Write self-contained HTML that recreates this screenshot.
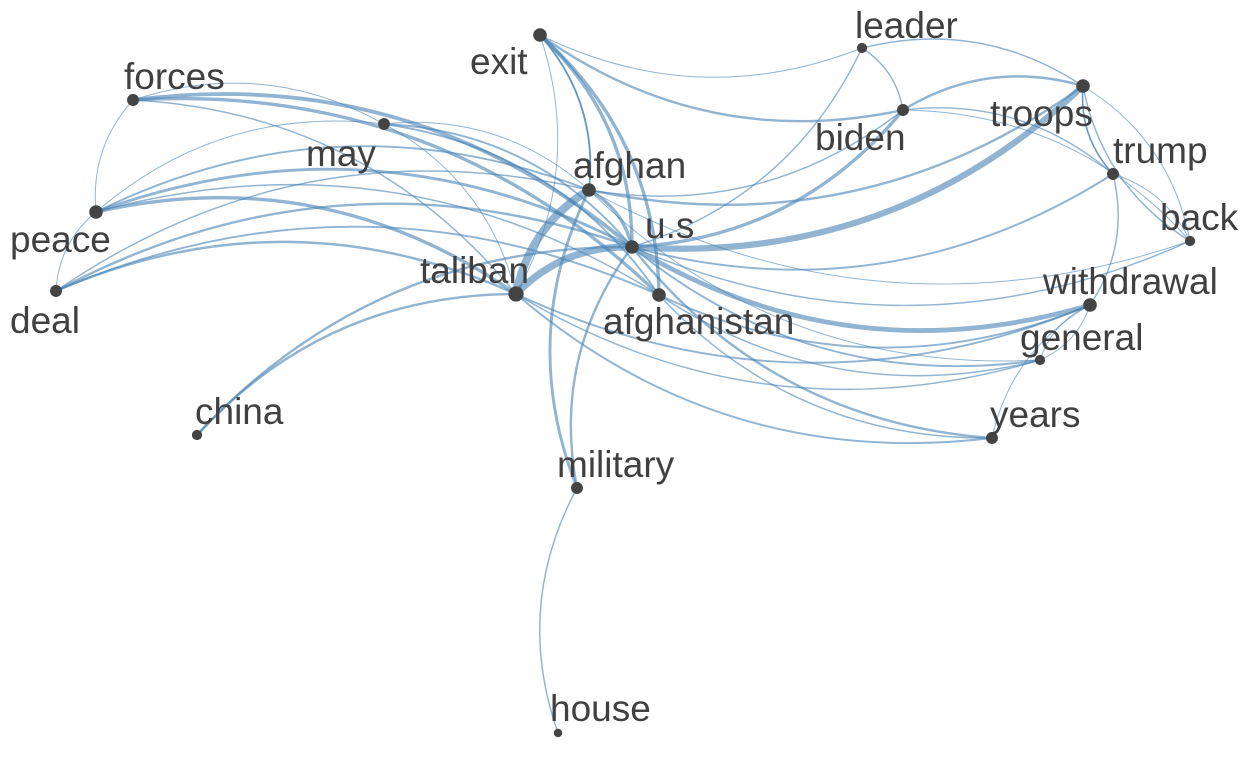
<!DOCTYPE html>
<html><head><meta charset="utf-8"><style>
html,body{margin:0;padding:0;background:#fff;}
svg{display:block;}
text{font-family:"Liberation Sans",sans-serif;font-size:37px;fill:#404040;}
</style></head><body>
<svg id="chart" width="1248" height="768"></svg>
<script>
const nodeNames=["exit","leader","forces","troops","may","biden","afghan","trump","peace","back","u.s","taliban","afghanistan","withdrawal","deal","general","years","china","military","house"];
const nodeX=[540,862,133,1083,384,903,589,1113,96,1190,632,516,659,1090,56,1040,992,197,577,558];
const nodeY=[35,48,100,86,124,110,190,174,212,241,247,294,295,305,291,360,438,435,488,733];
const nodeSize=[8,6,7,8,7,7,8,7,8,6,8,9,8,8,7,6,7,6,7,5];
const labelDX=[-70,-7,-9,-93,-78,-88,-16,0,-86,-30,13,-96,-56,-47,-46,-20,-2,-2,-20,-8];
const labelDY=[28,-21,-22,29,31,29,-23,-22,29,-22,-20,-22,28,-22,31,-21,-22,-22,-22,-23];
const edgeFrom=["taliban","taliban","troops","withdrawal","exit","exit","forces","forces","peace","peace","deal","deal","china","china","military","military","house","biden","biden","biden","leader","leader","trump","trump","back","back","years","years","general","general","may","may","peace","afghan","troops","trump","withdrawal","withdrawal","exit","forces","peace","deal","biden","leader","trump","years","general","leader","general","peace","deal","forces","may","exit","biden","biden","troops","trump","years","general","deal","peace","may","exit","back","withdrawal"];
const edgeTo=["u.s","afghan","u.s","u.s","afghanistan","u.s","u.s","afghanistan","u.s","taliban","u.s","taliban","u.s","taliban","u.s","afghan","military","u.s","troops","exit","u.s","troops","u.s","troops","u.s","troops","u.s","taliban","u.s","taliban","u.s","afghanistan","may","u.s","afghan","troops","afghanistan","taliban","afghan","taliban","afghanistan","afghanistan","afghan","biden","withdrawal","afghanistan","afghanistan","exit","withdrawal","afghan","afghan","may","afghan","afghan","trump","back","back","back","withdrawal","afghan","peace","forces","taliban","taliban","afghan","general"];
const edgeWeight=[7,8,6,4.5,3,3,3.5,3,2.5,3,2,2,2,2,2,2.5,1,3,2,2,1,1,1.5,1,1,1,2,1.5,1.5,1,1.5,1.5,0.5,3,2,1,1.5,1.5,1.5,1,1,1.5,1,1,1,1,1,0.5,0.5,1.5,1,0.5,0.5,1,1,0.5,0.5,0.5,0.5,0.5,0.5,0.5,0.5,0.5,0.5,0.5];
const NS="http://www.w3.org/2000/svg";
const svg=document.getElementById('chart');
const gE=document.createElementNS(NS,'g');


svg.appendChild(gE);
function idx(n){return nodeNames.indexOf(n);}
for(let i=0;i<edgeFrom.length;i++){
  const a=idx(edgeFrom[i]),b=idx(edgeTo[i]);
  const x1=nodeX[a],y1=nodeY[a],x2=nodeX[b],y2=nodeY[b];
  const mx=(x1+x2)/2,my=(y1+y2)/2,dx=x2-x1,dy=y2-y1;
  const k=0.22;
  const cx=mx+dy*k,cy=my-dx*k;
  const p=document.createElementNS(NS,'path');
  p.setAttribute('d',`M${x1},${y1} Q${cx},${cy} ${x2},${y2}`);
  p.setAttribute('fill','none');
  p.setAttribute('stroke','#4682B4');
  p.setAttribute('stroke-opacity','0.6');
  p.setAttribute('stroke-width',0.5+edgeWeight[i]*0.95);
  
  
  gE.appendChild(p);
}
for(let i=0;i<nodeNames.length;i++){
  const c=document.createElementNS(NS,'circle');
  c.setAttribute('cx',nodeX[i]);c.setAttribute('cy',nodeY[i]);c.setAttribute('r',nodeSize[i]*0.85);
  c.setAttribute('fill','#444');
  
  
  svg.appendChild(c);
  const t=document.createElementNS(NS,'text');
  t.setAttribute('x',nodeX[i]+labelDX[i]);t.setAttribute('y',nodeY[i]+labelDY[i]+11);
  t.textContent=nodeNames[i];
  
  
  svg.appendChild(t);
}
</script>
</body></html>
